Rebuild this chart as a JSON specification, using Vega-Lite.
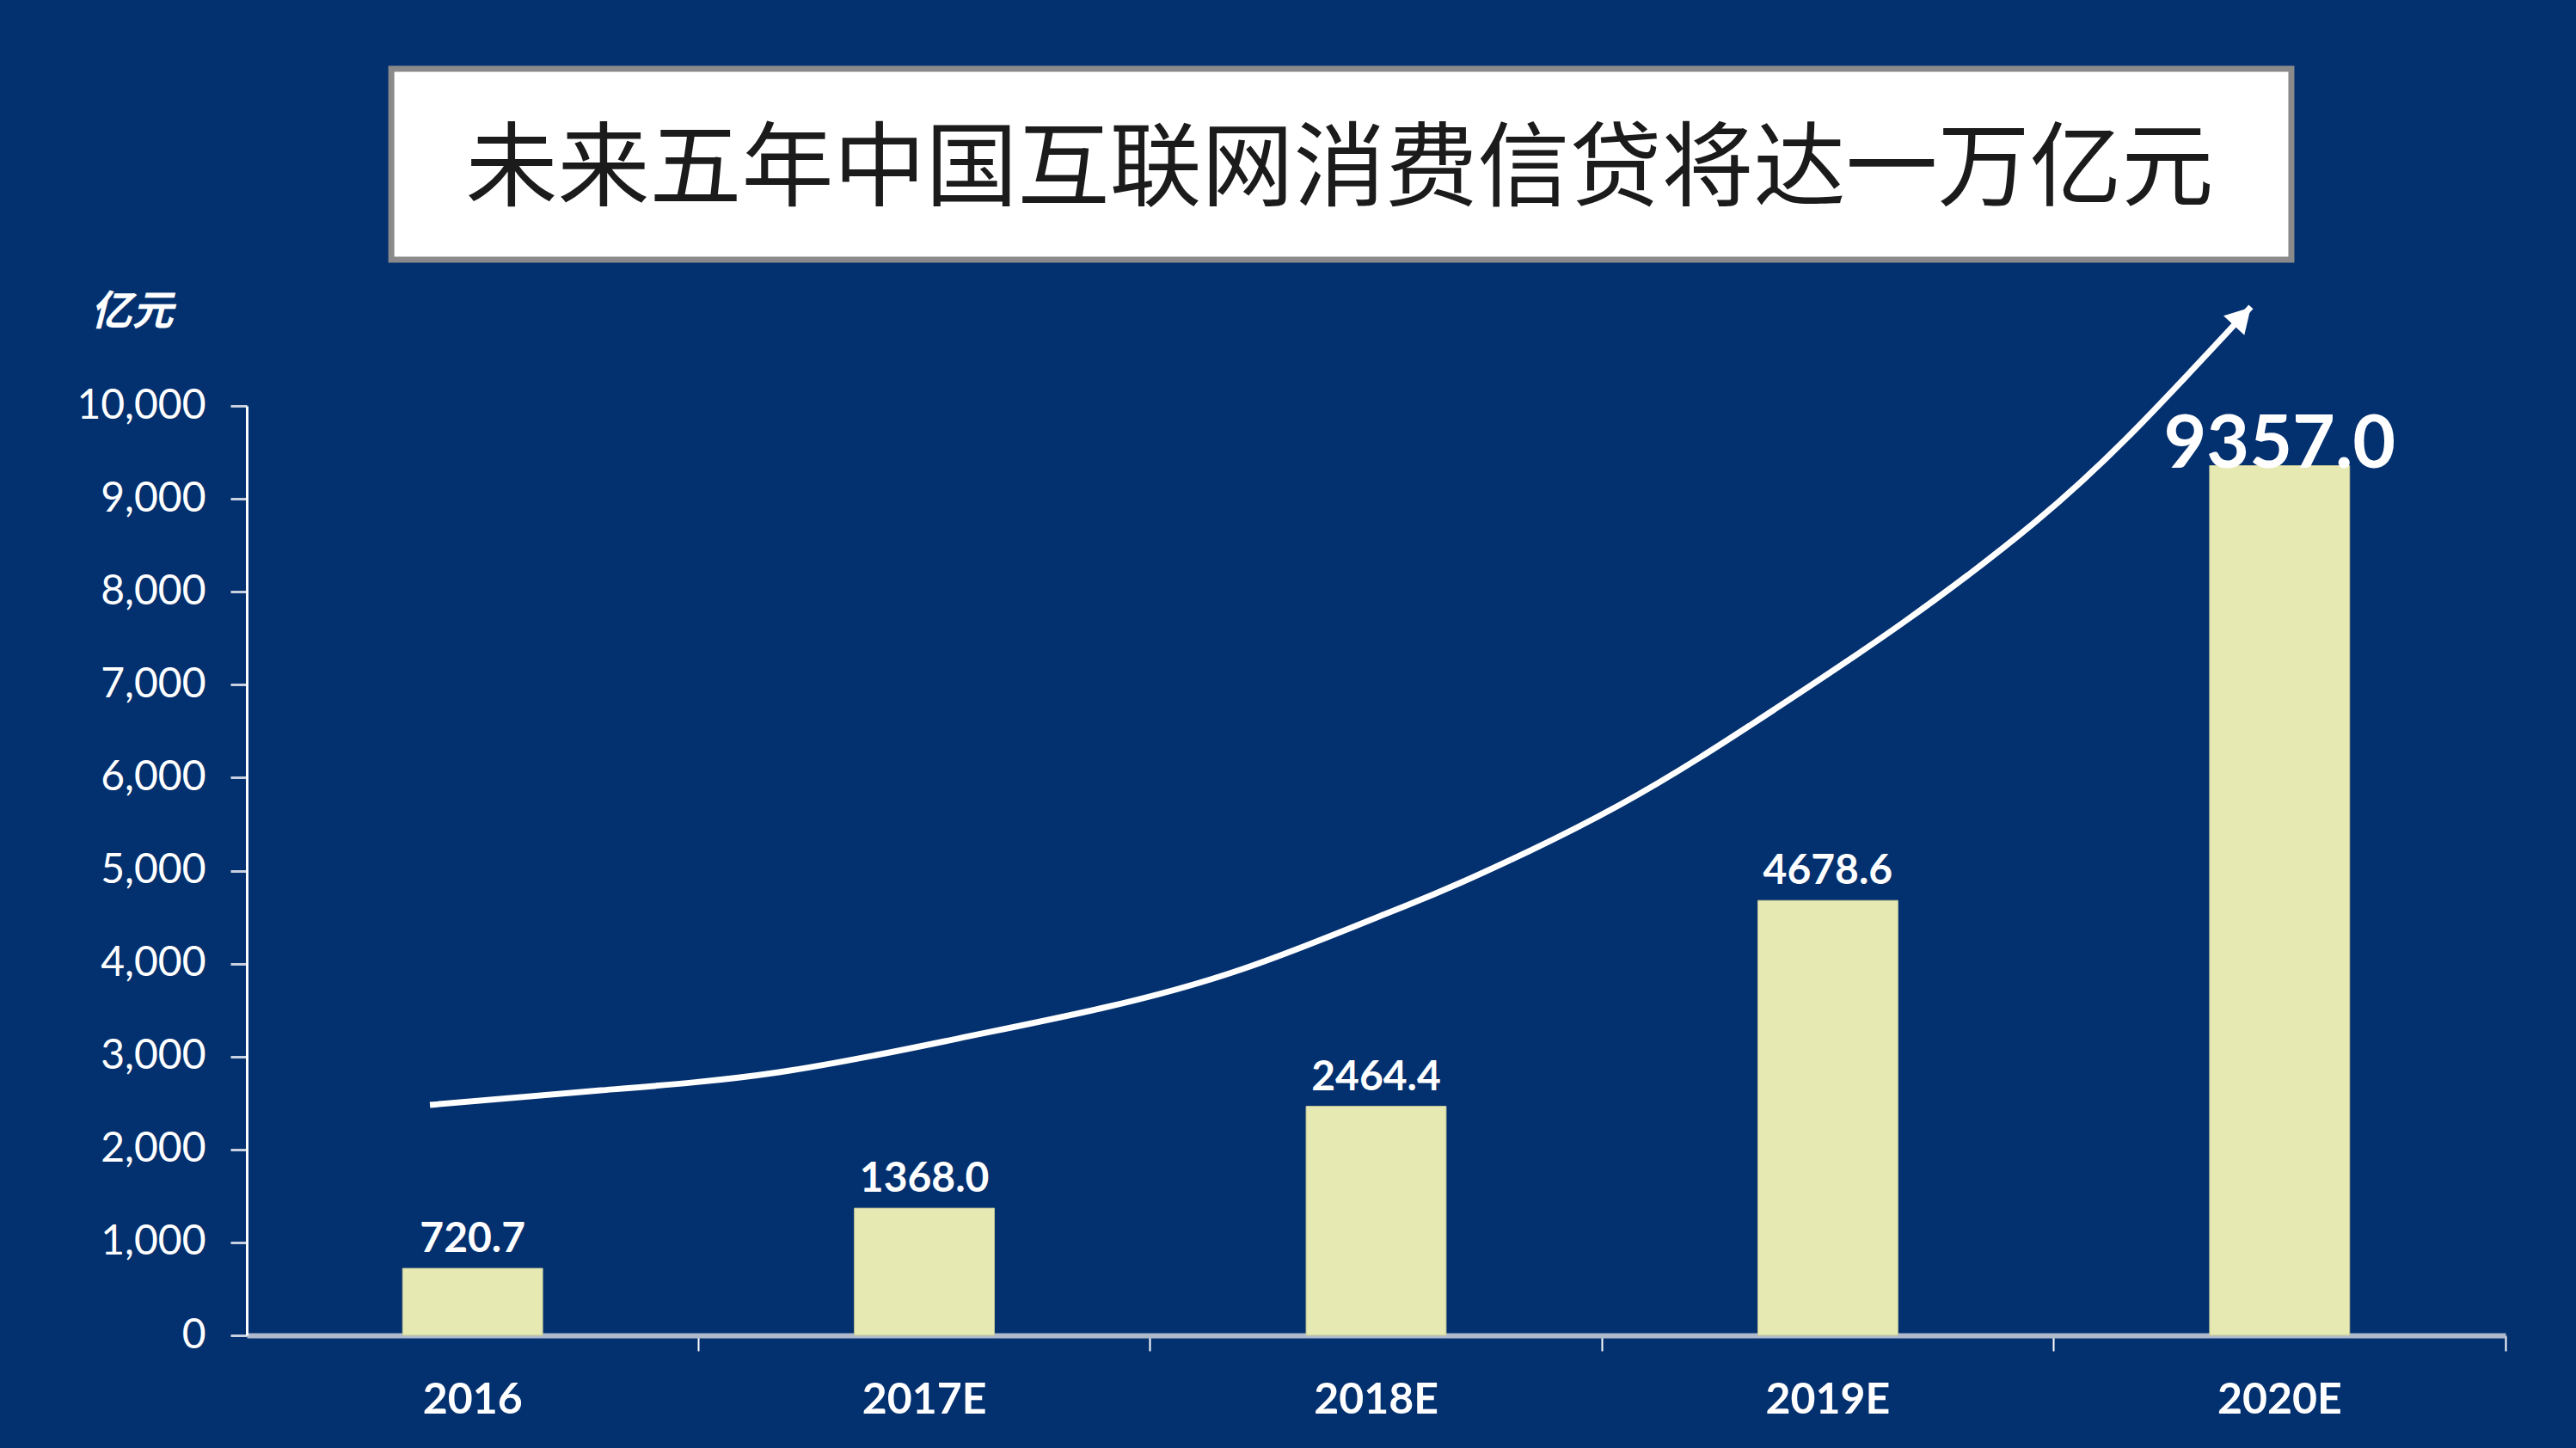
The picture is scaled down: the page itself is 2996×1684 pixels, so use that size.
{
  "$schema": "https://vega.github.io/schema/vega-lite/v6.json",
  "width": 2627,
  "height": 1081,
  "autosize": {"type": "none"},
  "padding": {"left": 287, "top": 472, "right": 82, "bottom": 131},
  "background": "#03306F",
  "config": {"view": {"stroke": null}},
  "datasets": {
    "bars": [
      {"year": "2016", "value": 720.7},
      {"year": "2017E", "value": 1368.0},
      {"year": "2018E", "value": 2464.4},
      {"year": "2019E", "value": 4678.6},
      {"year": "2020E", "value": 9357.0}
    ],
    "curve": [
      {"t": 0.0811, "v": 2479},
      {"t": 0.1568, "v": 2636},
      {"t": 0.2356, "v": 2831},
      {"t": 0.3144, "v": 3191},
      {"t": 0.3776, "v": 3515},
      {"t": 0.4408, "v": 3941},
      {"t": 0.5040, "v": 4533},
      {"t": 0.5379, "v": 4875},
      {"t": 0.6072, "v": 5698},
      {"t": 0.6764, "v": 6735},
      {"t": 0.7339, "v": 7678},
      {"t": 0.7918, "v": 8751},
      {"t": 0.8378, "v": 9787},
      {"t": 0.8873, "v": 11064}
    ],
    "header": [{"title": "未来五年中国互联网消费信贷将达一万亿元"}]
  },
  "layer": [
    {
      "data": {"name": "bars"},
      "encoding": {
        "x": {
          "field": "year",
          "type": "nominal",
          "sort": null,
          "scale": {"paddingInner": 0.69, "paddingOuter": 0.345},
          "axis": {
            "title": null,
            "labelAngle": 0,
            "labelFont": "Lato",
            "labelFontWeight": "bold",
            "labelFontSize": 50,
            "labelColor": "white",
            "labelBaseline": "middle",
            "labelPadding": 57,
            "bandPosition": 2.113,
            "tickSize": 18,
            "tickColor": "white",
            "tickWidth": 2,
            "domainColor": "#aeb9cc",
            "domainWidth": 6
          }
        },
        "y": {
          "field": "value",
          "type": "quantitative",
          "scale": {"domain": [0, 10000], "nice": false},
          "axis": {
            "values": [0, 1000, 2000, 3000, 4000, 5000, 6000, 7000, 8000, 9000, 10000],
            "format": ",d",
            "grid": false,
            "labelFont": "Lato",
            "labelFontSize": 48,
            "labelColor": "white",
            "labelPadding": 29,
            "tickSize": 19,
            "tickColor": "#c9d1e0",
            "tickWidth": 3,
            "domainColor": "white",
            "domainWidth": 3,
            "title": "亿元",
            "titleAngle": 0,
            "titleX": -134,
            "titleY": -109,
            "titleAlign": "center",
            "titleBaseline": "middle",
            "titleFont": "Noto Sans CJK SC",
            "titleFontSize": 48,
            "titleFontStyle": "italic",
            "titleFontWeight": "bold",
            "titleColor": "white"
          }
        }
      },
      "layer": [
        {"mark": {"type": "bar", "color": "#E6E9B2", "stroke": "#c4c79a", "strokeWidth": 1}},
        {
          "transform": [{"filter": "datum.year !== '2020E'"}],
          "mark": {"type": "text", "color": "white", "font": "Lato", "fontWeight": "bold", "fontSize": 48, "baseline": "alphabetic", "dy": -19},
          "encoding": {"text": {"field": "value", "type": "quantitative", "format": ".1f"}}
        },
        {
          "transform": [{"filter": "datum.year === '2020E'"}],
          "mark": {"type": "text", "color": "white", "font": "Lato", "fontWeight": "bold", "fontSize": 86, "baseline": "alphabetic", "dy": 2},
          "encoding": {"text": {"field": "value", "type": "quantitative", "format": ".1f"}}
        }
      ]
    },
    {
      "layer": [
        {
          "data": {"name": "header"},
          "mark": {"type": "rect", "fill": "white", "stroke": "#8a8a8a", "strokeWidth": 7},
          "encoding": {
            "x": {"datum": 0.064, "type": "quantitative", "scale": {"domain": [0, 1], "nice": false, "zero": false}, "axis": null},
            "x2": {"datum": 0.9052},
            "y": {"datum": 13626, "type": "quantitative", "scale": {"domain": [0, 10000], "nice": false}, "axis": null},
            "y2": {"datum": 11573}
          }
        },
        {
          "data": {"name": "header"},
          "mark": {"type": "text", "font": "Noto Sans CJK SC", "fontSize": 107, "color": "#1b1b1b", "align": "center", "baseline": "middle"},
          "encoding": {
            "x": {"datum": 0.4838, "type": "quantitative", "scale": {"domain": [0, 1], "nice": false, "zero": false}, "axis": null},
            "y": {"datum": 12525, "type": "quantitative", "scale": {"domain": [0, 10000], "nice": false}, "axis": null},
            "text": {"field": "title"}
          }
        },
        {
          "data": {"name": "curve"},
          "mark": {"type": "line", "color": "white", "strokeWidth": 7, "interpolate": "natural"},
          "encoding": {
            "x": {"field": "t", "type": "quantitative", "scale": {"domain": [0, 1], "nice": false, "zero": false}, "axis": null},
            "y": {"field": "v", "type": "quantitative", "scale": {"domain": [0, 10000], "nice": false}, "axis": null}
          }
        },
        {
          "data": {"name": "header"},
          "mark": {"type": "point", "shape": "triangle-up", "filled": true, "color": "white", "opacity": 1, "size": 1100, "angle": 43},
          "encoding": {
            "x": {"datum": 0.8835, "type": "quantitative", "scale": {"domain": [0, 1], "nice": false, "zero": false}, "axis": null},
            "y": {"datum": 10962, "type": "quantitative", "scale": {"domain": [0, 10000], "nice": false}, "axis": null}
          }
        }
      ]
    }
  ],
  "resolve": {"scale": {"x": "independent", "y": "independent"}}
}
